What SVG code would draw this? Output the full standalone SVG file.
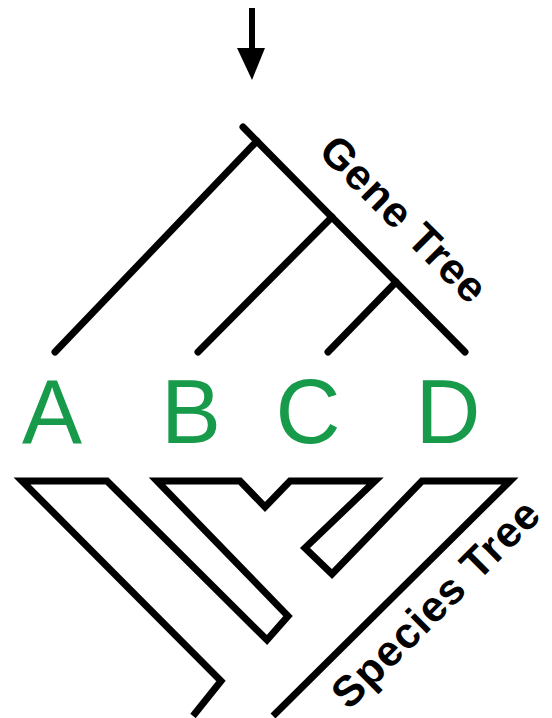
<svg xmlns="http://www.w3.org/2000/svg" width="552" height="718" viewBox="0 0 552 718">
<style>
.ln{stroke:#000;stroke-width:7;fill:none;stroke-linecap:round;stroke-linejoin:miter}
.lbl{font-family:"Liberation Sans",Arial,sans-serif;font-size:43px;font-weight:bold;fill:#000;letter-spacing:1px}
.leaf{font-family:"Liberation Sans",Arial,sans-serif;font-size:90px;fill:#179b4b;text-anchor:middle}
</style>
<rect width="552" height="718" fill="#fff"/>
<g id="arrow">
<line x1="252" y1="8" x2="252" y2="55" stroke="#000" stroke-width="6"/>
<polygon points="237,48 265,48 252,80" fill="#000"/>
</g>
<g id="connectors">
<g id="gene-tree">
<line class="ln" x1="243" y1="127" x2="465" y2="352"/>
<line class="ln" x1="55" y1="352" x2="257" y2="141"/>
<line class="ln" x1="198" y1="352" x2="332" y2="217"/>
<line class="ln" x1="328" y1="352" x2="396" y2="282"/>
</g>
<g id="species-tree">
<path class="ln" style="stroke-linecap:butt" d="M193,716 L221,681 L22,481 L107,481 L267,640 L288,616 L157,481 L240,481 L265,507 L290,481 L375,481 L305,548 L332,574 L422,481 L510,481 L273,716"/>
</g>
</g>
<g id="leaf-A"><text class="leaf" x="52" y="443">A</text></g>
<g id="leaf-B"><text class="leaf" x="191" y="443">B</text></g>
<g id="leaf-C"><text class="leaf" x="308" y="443">C</text></g>
<g id="leaf-D"><text class="leaf" x="448" y="443">D</text></g>
<g id="label-gene"><text class="lbl" transform="translate(317,153) rotate(45)">Gene Tree</text></g>
<g id="label-species"><text class="lbl" transform="translate(349,711) rotate(-45)">Species Tree</text></g>
</svg>
